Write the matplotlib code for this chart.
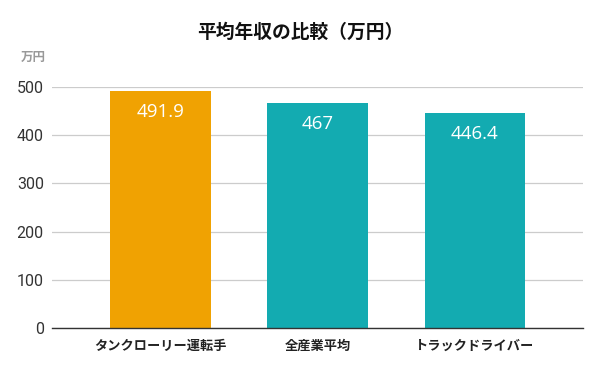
import matplotlib.pyplot as plt
import numpy as np

plt.rcParams['font.family'] = ['Noto Sans CJK JP', 'DejaVu Sans']

# データ
categories = ['タンクローリー運転手', '全産業平均', 'トラックドライバー']
values = [491.9, 467, 446.4]
value_labels = ['491.9', '467', '446.4']
colors = ['#f0a202', '#13abb1', '#13abb1']
yticks = [0, 100, 200, 300, 400, 500]

fig = plt.figure(figsize=(6, 3.71), dpi=100)
ax = fig.add_axes([0.087, 0.116, 0.885, 0.6495])

x = np.arange(len(categories))
bars = ax.bar(x, values, width=0.64, color=colors, zorder=2)

for b, lab in zip(bars, value_labels):
    ax.text(b.get_x() + b.get_width() / 2, b.get_height() - 44, lab,
            ha='center', va='center', color='white', fontsize=13.5,
            family=['Open Sans', 'DejaVu Sans'], zorder=3)

ax.set_xlim(-0.69, 2.69)
ax.set_ylim(0, 500)
ax.set_yticks(yticks)
ax.set_yticklabels([str(t) for t in yticks], family=['Roboto', 'DejaVu Sans'],
                   fontsize=11.5, color='#333333')
ax.set_xticks(x)
ax.set_xticklabels(categories, fontsize=9.5, fontweight='bold', color='#222222')
ax.tick_params(length=0, pad=8)
ax.tick_params(axis='y', pad=6)

ax.grid(axis='y', color='#cccccc', linewidth=0.9, zorder=0)
for s in ['top', 'right', 'left']:
    ax.spines[s].set_visible(False)
ax.spines['bottom'].set_color('#333333')
ax.spines['bottom'].set_linewidth(1.0)
ax.spines['bottom'].set_zorder(4)

fig.text(0.5, 0.912, '平均年収の比較（万円）', ha='center', va='center',
         fontsize=13.5, fontweight='bold', color='#111111')
fig.text(0.055, 0.845, '万円', ha='center', va='center', fontsize=9,
         fontweight='bold', color='#999999')

fig.savefig('out.png', dpi=100)
